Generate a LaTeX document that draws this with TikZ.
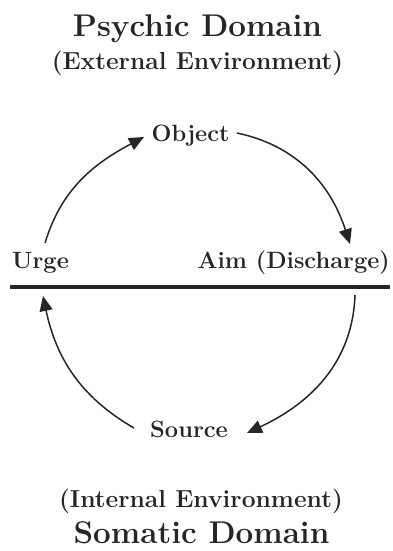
\documentclass[tikz,border=0pt]{standalone}
\usetikzlibrary{arrows.meta}
\begin{document}
\begin{tikzpicture}[x=1pt,y=1pt,
  ink/.style={black!85},
  title/.style={ink,inner sep=0pt,anchor=base,font=\fontsize{31.4}{34}\bfseries\selectfont},
  subtitle/.style={ink,inner sep=0pt,anchor=base,font=\fontsize{24.6}{28}\bfseries\selectfont},
  lbl/.style={ink,inner sep=0pt,font=\fontsize{23.6}{26}\bfseries\selectfont},
  flow/.style={ink,line width=1.5pt,-{Triangle[length=15pt,width=13pt]}},
  divider/.style={ink,line width=3.5pt}]
\useasboundingbox (0,0) rectangle (392,551);
% headings
\node[title] (psy) at (197.5,514) {Psychic Domain};
\node[subtitle] (ext) at (197.5,481) {(External Environment)};
\node[subtitle] (int) at (201,43) {(Internal Environment)};
\node[title] (som) at (201.5,8) {Somatic Domain};
% labels
\node[lbl,anchor=base] (obj) at (190.5,409) {Object};
\node[lbl,anchor=base] (src) at (189,113) {Source};
\node[lbl,anchor=base west] (urge) at (12,282) {Urge};
\node[lbl,anchor=base east] (aim) at (390,282) {Aim (Discharge)};
% divider
\coordinate (dl) at (10,264);
\coordinate (dr) at (390,264);
\draw[divider] (dl) -- (dr);
% arc end points
\coordinate (u1) at (45,308);
\coordinate (o1) at (144,414);
\coordinate (o2) at (237,418);
\coordinate (a1) at (350,307);
\coordinate (a2) at (355,256);
\coordinate (s1) at (247,118);
\coordinate (s2) at (134,123);
\coordinate (u2) at (43,255);
\draw[flow] (u1) to[out=73,in=208] (o1);
\draw[flow] (o2) to[out=-12,in=108] (a1);
\draw[flow] (a2) to[out=-92,in=25] (s1);
\draw[flow] (s2) to[out=150,in=-78] (u2);
\end{tikzpicture}
\end{document}
